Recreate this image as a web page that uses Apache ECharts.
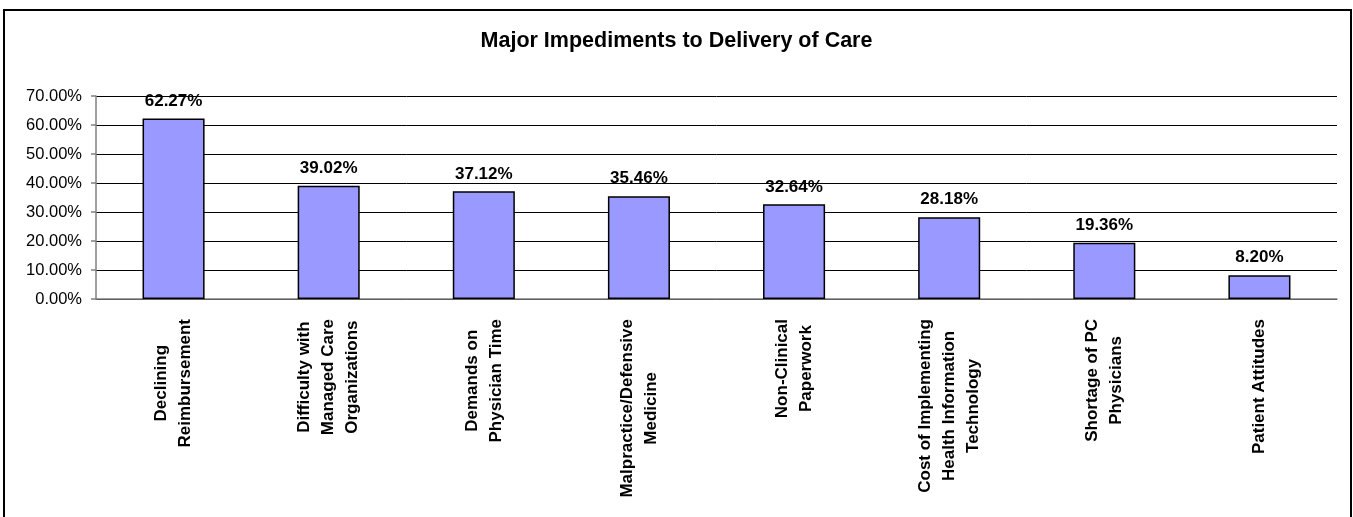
<!DOCTYPE html>
<html>
<head>
<meta charset="utf-8">
<title>Major Impediments to Delivery of Care</title>
<script src="https://cdn.jsdelivr.net/npm/echarts@6/dist/echarts.min.js"></script>
<style>
  html, body { margin: 0; padding: 0; background: #fff; }
  #chart { width: 1353px; height: 517px; }
</style>
</head>
<body>
<div id="chart"></div>
<script>
// datos del gráfico
const titulo = 'Major Impediments to Delivery of Care';
const categorias = [
    'Declining\nReimbursement',
    'Difficulty with\nManaged Care\nOrganizations',
    'Demands on\nPhysician Time',
    'Malpractice/Defensive\nMedicine',
    'Non-Clinical\nPaperwork',
    'Cost of Implementing\nHealth Information\nTechnology',
    'Shortage of PC\nPhysicians',
    'Patient Attitudes'
];
const valores = [62.27, 39.02, 37.12, 35.46, 32.64, 28.18, 19.36, 8.20];
const ejeMin = 0, ejeMax = 70, ejeIntervalo = 10;

const fuente = '"Liberation Sans", Arial, sans-serif';

const chart = echarts.init(document.getElementById('chart'));
chart.setOption({
    backgroundColor: '#fff',
    animation: false,
    title: {
        text: titulo, left: 'center', top: 25,
        textStyle: { fontFamily: fuente, fontSize: 21.5, fontWeight: 'bold', color: '#000' }
    },
    graphic: [{
        type: 'rect',
        shape: { x: 4, y: 10, width: 1347, height: 520 },
        style: { fill: 'none', stroke: '#000', lineWidth: 2 }
    }],
    grid: { left: 96, right: 16, top: 96, bottom: 218 },
    xAxis: {
        type: 'category',
        data: categorias,
        axisLine: { lineStyle: { color: '#808080', width: 1.5 } },
        axisTick: { length: 5, lineStyle: { color: '#808080', width: 1.5 } },
        axisLabel: {
            interval: 0, rotate: 90, margin: 20,
            color: '#000',
            // cada línea centrada dentro del bloque rotado
            formatter: v => v.split('\n').map(l => '{c|' + l + '}').join('\n'),
            rich: {
                c: { align: 'center', fontFamily: fuente, fontSize: 17, fontWeight: 'bold', lineHeight: 24, color: '#000' }
            }
        }
    },
    yAxis: {
        type: 'value',
        min: ejeMin, max: ejeMax, interval: ejeIntervalo,
        axisLine: { show: true, lineStyle: { color: '#808080', width: 1.5 } },
        axisTick: { show: true, length: 5, lineStyle: { color: '#808080', width: 1.5 } },
        axisLabel: {
            margin: 14, color: '#000', fontFamily: fuente, fontSize: 16.5,
            formatter: v => v.toFixed(2) + '%'
        },
        splitLine: { lineStyle: { color: '#000', width: 1 } }
    },
    series: [{
        type: 'bar',
        data: valores,
        barWidth: '40%',
        itemStyle: { color: '#9999FF', borderColor: '#000', borderWidth: 1.5 },
        label: {
            show: true, position: 'top', distance: 9,
            color: '#000', fontFamily: fuente, fontSize: 17, fontWeight: 'bold',
            formatter: p => p.value.toFixed(2) + '%'
        }
    }]
});
</script>
</body>
</html>
